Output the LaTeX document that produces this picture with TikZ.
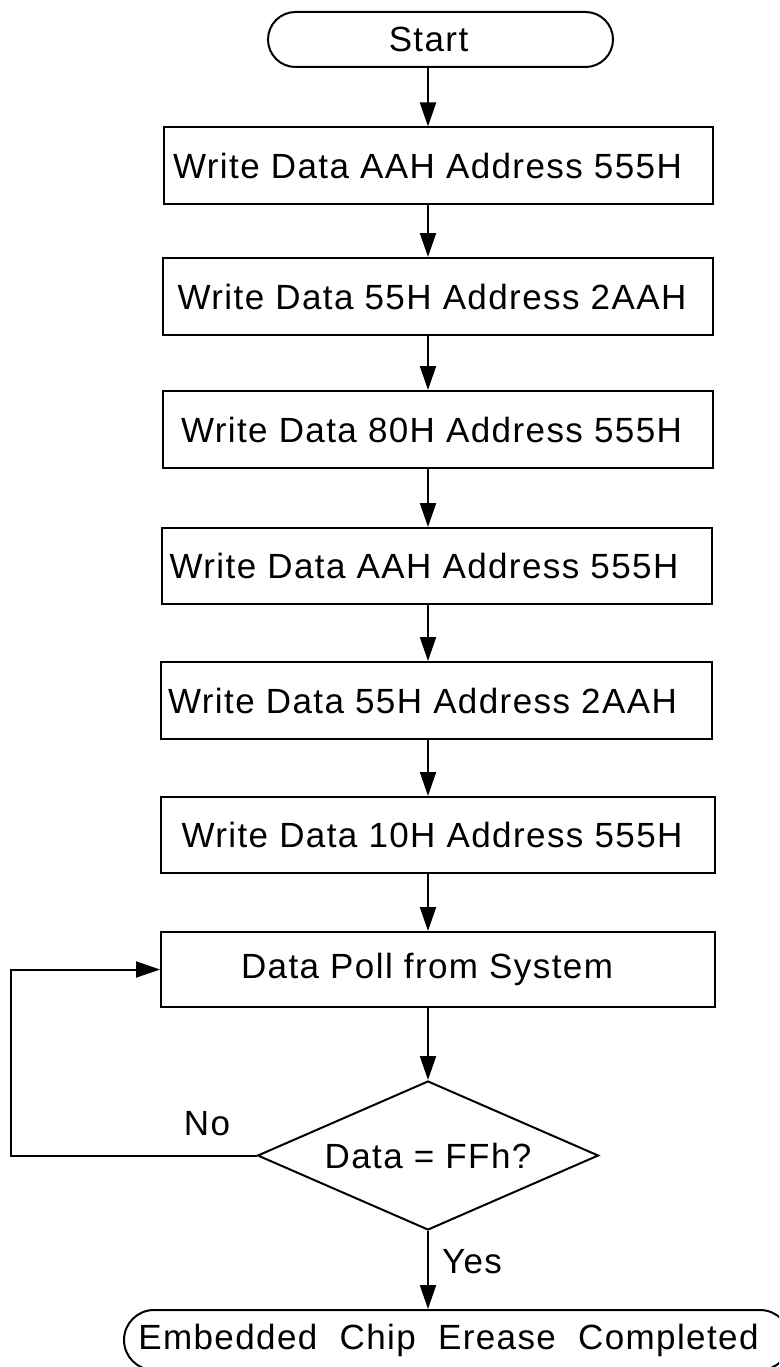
\documentclass[tikz,border=0pt]{standalone}
\usepackage{fontspec}
\setmainfont{Liberation Sans}[LetterSpace=4]
\usetikzlibrary{shapes.geometric,shapes.misc,arrows.meta}
\begin{document}
\begin{tikzpicture}[x=1pt,y=-1pt,line width=2pt,
  every node/.style={font=\fontsize{35}{42}\selectfont},
  box/.style={draw,rectangle,inner sep=0pt,minimum width=#1,minimum height=76pt},
  term/.style={draw,rounded rectangle,inner sep=0pt},
  decision/.style={draw,diamond,aspect=2.29,inner sep=0pt,minimum width=341pt,minimum height=149pt},
  plain/.style={inner sep=0pt},
  arr/.style={-{Triangle[length=24pt,width=16pt]}}]
\useasboundingbox (0,0) rectangle (779,1367);
\clip (0,0) rectangle (779,1367);

\coordinate (col) at (428,0);

\node[term,minimum width=345pt,minimum height=55pt] (start) at (440.5,39.5) {\hspace*{-24pt}Start};
\node[box=549pt] (b1) at (438.5,165.5) {\hspace*{-22pt}Write Data AAH Address 555H};
\node[box=550pt,minimum height=77pt] (b2) at (438,296.5) {\hspace*{-12pt}Write Data 55H Address 2AAH};
\node[box=550pt,minimum height=77pt] (b3) at (438,429.5) {\hspace*{-13pt}Write Data 80H Address 555H};
\node[box=550pt] (b4) at (437,566) {\hspace*{-26pt}Write Data AAH Address 555H};
\node[box=551pt,minimum height=77pt] (b5) at (436.5,700.5) {\hspace*{-28pt}Write Data 55H Address 2AAH};
\node[box=554pt] (b6) at (438,835) {\hspace*{-12pt}Write Data 10H Address 555H};
\node[box=554pt,minimum height=75pt] (b7) at (438,969.5) {\hspace*{-22pt}Data Poll from System};
\node[decision] (d) at (428,1155.5) {Data = FFh?};
\node[term,minimum width=666pt,minimum height=60pt] (e) at (457,1340) {\hspace*{-17pt}Embedded\ \ Chip\ \ Erease\ \ Completed};

\node[plain] (no) at (207,1124) {No};
\node[plain] (yes) at (472,1262) {Yes};

\draw[arr] (start.south -| col) -- (b1.north -| col);
\draw[arr] (b1.south -| col) -- (b2.north -| col);
\draw[arr] (b2.south -| col) -- (b3.north -| col);
\draw[arr] (b3.south -| col) -- (b4.north -| col);
\draw[arr] (b4.south -| col) -- (b5.north -| col);
\draw[arr] (b5.south -| col) -- (b6.north -| col);
\draw[arr] (b6.south -| col) -- (b7.north -| col);
\draw[arr] (b7.south -| col) -- (d.north);
\draw[arr] (d.south) -- (e.north -| col);

\coordinate (lp) at (11,1155.5);
\draw[arr] (d.west) -- (lp) |- (b7.west);
\end{tikzpicture}
\end{document}
